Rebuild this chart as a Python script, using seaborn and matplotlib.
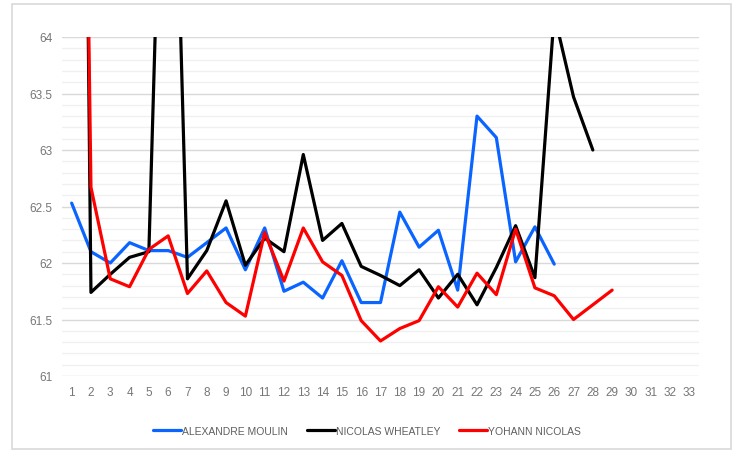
import numpy as np
import pandas as pd
import seaborn as sns
import matplotlib.pyplot as plt
from matplotlib.patches import Rectangle
from matplotlib.ticker import MultipleLocator, FuncFormatter

# values (points beyond 64 are clipped by the axis)
alexandre = [62.53, 62.10, 62.00, 62.18, 62.11, 62.11, 62.05, 62.18, 62.31, 61.94,
             62.31, 61.75, 61.83, 61.69, 62.02, 61.65, 61.65, 62.45, 62.14, 62.29,
             61.76, 63.30, 63.11, 62.01, 62.32, 61.99]
nicolas = [78.0, 61.74, 61.90, 62.05, 62.10, 68.0, 61.86, 62.11, 62.55, 61.98,
           62.22, 62.10, 62.96, 62.20, 62.35, 61.97, 61.89, 61.80, 61.94, 61.69,
           61.90, 61.63, 61.96, 62.33, 61.87, 64.20, 63.47, 63.00]
yohann = [75.0, 62.67, 61.86, 61.79, 62.12, 62.24, 61.73, 61.93, 61.65, 61.53,
          62.27, 61.84, 62.31, 62.01, 61.89, 61.49, 61.31, 61.42, 61.49, 61.79,
          61.61, 61.91, 61.72, 62.30, 61.78, 61.71, 61.50, 61.63, 61.76]
names = ['ALEXANDRE MOULIN', 'NICOLAS WHEATLEY', 'YOHANN NICOLAS']
colors = ['#0A64FF', '#000000', '#FF0000']
x_ticks = list(range(1, 34))

frames = []
for name, vals in zip(names, [alexandre, nicolas, yohann]):
    frames.append(pd.DataFrame({'round': range(1, len(vals) + 1), 'value': vals, 'player': name}))
df = pd.concat(frames, ignore_index=True)

sns.set_style('white')
plt.rcParams['font.family'] = ['Liberation Sans', 'DejaVu Sans']

fig = plt.figure(figsize=(7.34, 4.52), dpi=100)
ax = fig.add_axes([62 / 734, 1 - 377 / 452, (699 - 62) / 734, (377 - 38) / 452])

# outer chart frame
fig.patches.append(Rectangle((12 / 734, 2 / 452), 719 / 734, 445 / 452, transform=fig.transFigure,
                             fill=False, edgecolor='#d9d9d9', linewidth=1.2))

sns.lineplot(data=df, x='round', y='value', hue='player', palette=colors,
             hue_order=names, linewidth=2.3, ax=ax, legend=True)

ax.set_xlim(0.5, 33.5)
ax.set_ylim(61, 64)
ax.yaxis.set_major_locator(MultipleLocator(0.5))
ax.yaxis.set_minor_locator(MultipleLocator(0.1))
ax.yaxis.set_major_formatter(FuncFormatter(lambda v, p: f'{v:g}'))
ax.set_xticks(x_ticks)
ax.grid(which='major', axis='y', color='#d9d9d9', linewidth=1)
ax.grid(which='minor', axis='y', color='#f0f0f0', linewidth=1)
ax.set_axisbelow(True)
for s in ax.spines.values():
    s.set_visible(False)
ax.tick_params(axis='both', which='both', length=0, colors='#767676', labelsize=8.5)
ax.tick_params(axis='x', pad=7)
ax.tick_params(axis='y', pad=7)
ax.set_xlabel('')
ax.set_ylabel('')

handles, labels = ax.get_legend_handles_labels()
ax.get_legend().remove()
fig.legend(handles, labels, loc='center', bbox_to_anchor=(0.5, 1 - 432 / 452), ncol=3,
           frameon=False, fontsize=7.5, handlelength=2.7, handletextpad=0.1,
           columnspacing=1.8, labelcolor='#5f5f5f')

fig.savefig('out.png', dpi=100)
